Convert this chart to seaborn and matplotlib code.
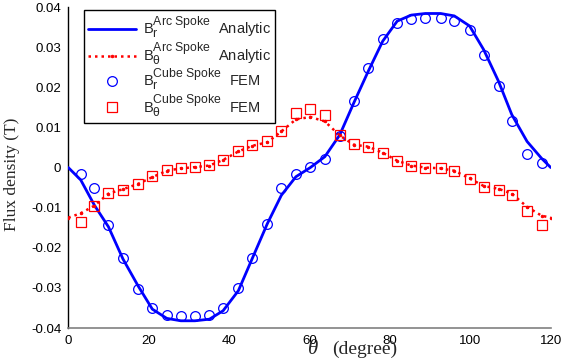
import numpy as np
import pandas as pd
import matplotlib
matplotlib.use("Agg")
import matplotlib.pyplot as plt
import matplotlib._mathtext as _mt
import seaborn as sns

# ---- data ----
theta_fem = [3.1, 6.5, 10.0, 13.6, 17.3, 20.9, 24.5, 28.0, 31.5, 35.1, 38.5,
             42.3, 45.7, 49.5, 53.0, 56.6, 60.2, 63.8, 67.5, 71.0, 74.6, 78.2,
             81.8, 85.3, 88.8, 92.6, 96.0, 99.8, 103.3, 107.0, 110.3, 114.1, 117.7]
theta_ana = [0.0] + theta_fem + [120.0]

br_fem = [-0.0016, -0.0052, -0.0142, -0.0225, -0.0304, -0.0351, -0.0367, -0.0371,
          -0.0371, -0.0368, -0.0351, -0.0301, -0.0225, -0.0140, -0.0050, -0.0016,
          0.0002, 0.0021, 0.0078, 0.0167, 0.0249, 0.0320, 0.0360, 0.0370, 0.0372,
          0.0372, 0.0365, 0.0342, 0.0280, 0.0203, 0.0115, 0.0034, 0.0011]

bt_fem = [-0.0136, -0.0097, -0.0063, -0.0055, -0.0040, -0.0021, -0.0006, -0.0002,
          0.0002, 0.0006, 0.0019, 0.0041, 0.0055, 0.0065, 0.0092, 0.0136, 0.0147,
          0.0130, 0.0080, 0.0058, 0.0052, 0.0037, 0.0017, 0.0005, 0.0000, -0.0002,
          -0.0009, -0.0029, -0.0048, -0.0055, -0.0069, -0.0109, -0.0142]

br_ana = [0.0, -0.0031, -0.0094, -0.0148, -0.0228, -0.0294, -0.0353, -0.0376,
          -0.0382, -0.0382, -0.0378, -0.0357, -0.0307, -0.0228, -0.0140, -0.0069,
          -0.0023, 0.0000, 0.0027, 0.0081, 0.0161, 0.0240, 0.0315, 0.0365, 0.0380,
          0.0384, 0.0384, 0.0378, 0.0353, 0.0294, 0.0215, 0.0132, 0.0065, 0.0023, 0.0]

bt_ana = [-0.0125, -0.0114, -0.0095, -0.0065, -0.0054, -0.0041, -0.0024, -0.0008,
          -0.0002, 0.0001, 0.0005, 0.0019, 0.0040, 0.0054, 0.0063, 0.0090, 0.0120,
          0.0126, 0.0115, 0.0080, 0.0057, 0.0052, 0.0037, 0.0017, 0.0005, 0.0000,
          -0.0002, -0.0008, -0.0027, -0.0046, -0.0053, -0.0065, -0.0098, -0.0120, -0.0125]

x_ticks = [0, 20, 40, 60, 80, 100, 120]
y_ticks = [-0.04, -0.03, -0.02, -0.01, 0, 0.01, 0.02, 0.03, 0.04]
y_ticklabels = ["-0.04", "-0.03", "-0.02", "-0.01", "0", "0.01", "0.02", "0.03", "0.04"]

labels = [r"B$_{\mathrm{r}}^{\mathrm{Arc\ Spoke}}$  Analytic",
          r"B$_{\mathrm{\theta}}^{\mathrm{Arc\ Spoke}}$  Analytic",
          r"B$_{\mathrm{r}}^{\mathrm{Cube\ Spoke}}$  FEM",
          r"B$_{\mathrm{\theta}}^{\mathrm{Cube\ Spoke}}$  FEM"]

ana = pd.DataFrame({"theta": theta_ana, "br": br_ana, "bt": bt_ana})
fem = pd.DataFrame({"theta": theta_fem, "br": br_fem, "bt": bt_fem})

# ---- style ----
sns.set_style("white")
plt.rcParams["font.family"] = ["Liberation Sans", "DejaVu Sans"]
plt.rcParams["mathtext.fontset"] = "custom"
plt.rcParams["mathtext.rm"] = "Liberation Sans"
plt.rcParams["mathtext.it"] = "Liberation Sans:italic"
plt.rcParams["mathtext.bf"] = "Liberation Sans:bold"
# MATLAB-like larger super/subscripts in the legend
_mt.SHRINK_FACTOR = 0.84

fig = plt.figure(figsize=(5.63, 3.61), dpi=100)
ax = fig.add_axes([0.1213, 0.0914, 0.857, 0.889])

sns.lineplot(data=ana, x="theta", y="br", ax=ax, color="#0000ff", lw=2.0,
             label=labels[0], zorder=3)
sns.lineplot(data=ana, x="theta", y="bt", ax=ax, color="#ff0000", lw=1.8,
             linestyle=(0, (1, 1.6)), marker=".", markersize=3.5,
             markeredgecolor="#ff0000", label=labels[1], zorder=3)
ax.plot(fem["theta"], fem["br"], linestyle="none", marker="o", markersize=7,
        markerfacecolor="none", markeredgecolor="#0000ff", markeredgewidth=0.9,
        label=labels[2], zorder=4)
ax.plot(fem["theta"], fem["bt"], linestyle="none", marker="s", markersize=7.5,
        markerfacecolor="none", markeredgecolor="#ff0000", markeredgewidth=0.9,
        label=labels[3], zorder=4)

ax.set_xlim(0, 120)
ax.set_ylim(-0.04, 0.04)
ax.set_xticks(x_ticks)
ax.set_xticklabels([str(t) for t in x_ticks])
ax.set_yticks(y_ticks)
ax.set_yticklabels(y_ticklabels)
ax.tick_params(direction="in", length=3, width=0.8, labelsize=9.5,
               colors="black", pad=5)
ax.tick_params(axis="x", color="#808080")

for s in ["top", "right"]:
    ax.spines[s].set_visible(False)
ax.spines["left"].set_color("black")
ax.spines["left"].set_linewidth(1.0)
ax.spines["bottom"].set_color("#808080")
ax.spines["bottom"].set_linewidth(1.2)

# x label: italic theta followed by "(degree)"
ax.set_xlabel("(degree)", fontsize=14, family="Liberation Serif")
ax.xaxis.set_label_coords(0.614, -0.038)
ax.text(0.508, -0.036, "θ", transform=ax.transAxes, ha="center", va="top",
        fontsize=15, family="Liberation Serif", style="italic")

ax.set_ylabel("Flux density (T)", fontsize=12.5, family="Liberation Serif")
ax.yaxis.set_label_coords(-0.1, 0.48)

leg = ax.legend(loc="upper left", bbox_to_anchor=(0.0325, 0.99), borderaxespad=0,
                frameon=True, fancybox=False, shadow=False, framealpha=1,
                edgecolor="black", fontsize=10.5, handlelength=3.3,
                handletextpad=0.45, labelspacing=0.0, borderpad=0.3)
leg.get_frame().set_linewidth(1.0)

fig.savefig("out.png", dpi=100)
